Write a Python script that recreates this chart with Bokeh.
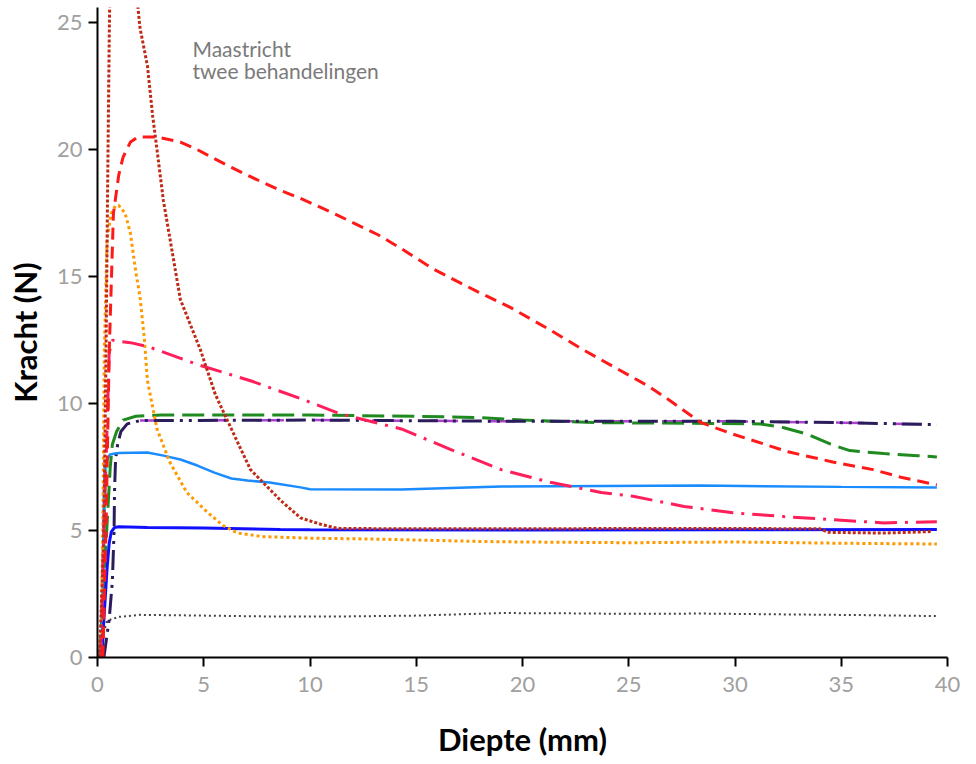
from bokeh.plotting import figure
from bokeh.models import Range1d, FixedTicker, Label
from bokeh.embed import file_html
from bokeh.resources import INLINE

# ---- data (depth in mm, force in N) ----
darkred_x = [0.1, 0.3, 0.4, 0.47, 0.56, 0.62, 1.0, 1.5, 2.0, 2.35, 2.6, 2.8, 3.1, 3.9, 4.85, 5.55, 6.3, 7.2, 8.6, 9.55, 10.5, 11.1, 11.4, 15, 20, 25, 30, 34.0, 34.4, 37.0, 39.3]
darkred_y = [0.0, 5.0, 12.0, 18.0, 25.0, 28.0, 32.0, 29.0, 24.8, 23.3, 21.3, 20.0, 18.0, 14.1, 12.1, 10.35, 9.0, 7.4, 6.2, 5.5, 5.25, 5.12, 5.08, 5.07, 5.07, 5.08, 5.08, 5.07, 4.93, 4.9, 4.96]

red_x = [0.25, 0.4, 0.55, 0.75, 1.0, 1.2, 1.55, 1.9, 2.8, 3.9, 4.7, 6.3, 7.8, 8.6, 9.5, 11.1, 13.2, 14.3, 15.8, 17.9, 19.4, 21.3, 22.9, 25.9, 26.8, 28.4, 29.9, 32.5, 34.6, 36.5, 37.8, 39.5]
red_y = [0.0, 5.0, 12.0, 17.5, 19.0, 19.7, 20.3, 20.5, 20.5, 20.3, 20.0, 19.3, 18.7, 18.4, 18.1, 17.5, 16.65, 16.1, 15.3, 14.4, 13.8, 12.9, 12.1, 10.7, 10.2, 9.25, 8.8, 8.1, 7.7, 7.4, 7.1, 6.8]

orange_x = [0.15, 0.25, 0.32, 0.45, 0.65, 0.85, 1.0, 1.3, 1.55, 1.8, 2.0, 2.2, 2.35, 2.8, 3.4, 4.2, 5.2, 5.9, 6.6, 7.8, 10, 13.3, 18, 20, 25, 30, 35, 39.5]
orange_y = [0.0, 5.0, 12.0, 16.5, 17.5, 17.8, 17.8, 17.5, 16.7, 15.2, 14.2, 12.6, 10.9, 9.0, 7.7, 6.5, 5.7, 5.2, 4.9, 4.76, 4.7, 4.66, 4.57, 4.55, 4.52, 4.55, 4.5, 4.47]

pink_x = [0.15, 0.3, 0.45, 0.55, 0.7, 1.05, 1.55, 2.35, 4.85, 7.2, 9.55, 11.4, 14.3, 16.6, 19.0, 21.3, 23.7, 25.2, 27.6, 29.9, 32.3, 34.6, 37.0, 39.5]
pink_y = [0.0, 5.0, 9.0, 12.0, 12.5, 12.45, 12.4, 12.25, 11.5, 10.9, 10.2, 9.6, 9.0, 8.2, 7.4, 6.9, 6.5, 6.35, 5.95, 5.7, 5.55, 5.43, 5.3, 5.35]

green_x = [0.1, 0.3, 0.5, 0.6, 0.7, 0.9, 1.2, 1.8, 3, 10, 15, 18, 20, 23.7, 31.2, 32.3, 33.4, 34.5, 35.4, 37.0, 38.6, 39.5]
green_y = [0.0, 3.0, 6.0, 7.5, 8.4, 8.9, 9.35, 9.5, 9.55, 9.55, 9.5, 9.45, 9.35, 9.25, 9.2, 9.05, 8.8, 8.4, 8.15, 8.03, 7.95, 7.9]

navy_x = [0.3, 0.55, 0.7, 0.78, 0.8, 0.85, 0.95, 1.1, 1.4, 2.0, 10, 20, 30, 35, 39.5]
navy_y = [0.0, 1.5, 3.0, 5.0, 6.5, 7.8, 8.4, 8.9, 9.2, 9.33, 9.35, 9.3, 9.3, 9.25, 9.17]

violet_x = [2.0, 10, 20, 30, 35, 39.5]
violet_y = [9.33, 9.35, 9.3, 9.3, 9.25, 9.17]

skyblue_x = [0.2, 0.3, 0.35, 0.6, 1.0, 2.35, 3.1, 3.9, 4.7, 5.5, 6.3, 7.06, 8.1, 9.55, 10, 14.3, 19.0, 28.4, 35, 39.5]
skyblue_y = [0.0, 6.5, 7.7, 8.0, 8.05, 8.07, 7.95, 7.8, 7.56, 7.28, 7.05, 6.97, 6.89, 6.7, 6.63, 6.62, 6.73, 6.77, 6.72, 6.7]

cyan_x = [0.25, 0.35, 0.42, 0.6, 0.9]
cyan_y = [0.0, 6.5, 7.7, 8.0, 8.05]

blue_x = [0.2, 0.3, 0.45, 0.55, 0.65, 0.8, 1.0, 2.35, 5.0, 8.6, 10, 20, 30, 39.5]
blue_y = [0.0, 1.5, 3.5, 4.5, 4.95, 5.12, 5.15, 5.12, 5.1, 5.04, 5.03, 5.02, 5.03, 5.04]

gray_x = [0.15, 0.3, 0.45, 1.0, 2.0, 5.0, 8.6, 12, 15, 19, 22, 25, 28.4, 32, 36, 39.5]
gray_y = [0.0, 1.0, 1.45, 1.6, 1.68, 1.65, 1.61, 1.62, 1.65, 1.75, 1.74, 1.72, 1.73, 1.7, 1.67, 1.63]

x_ticks = [0, 5, 10, 15, 20, 25, 30, 35, 40]
y_ticks = [0, 5, 10, 15, 20, 25]

p = figure(width=968, height=760, output_backend="svg", toolbar_location=None,
           x_range=Range1d(0, 40), y_range=Range1d(0, 25.6),
           min_border_left=97, min_border_right=21, min_border_top=7, min_border_bottom=102)
p.outline_line_color = None
p.grid.visible = False
p.background_fill_color = "white"
p.border_fill_color = "white"

# series
p.line(gray_x, gray_y, line_color="#444444", line_width=2, line_dash="2 3")
p.line(cyan_x, cyan_y, line_color="#22dddd", line_width=2.5)
p.line(violet_x, violet_y, line_color="#b040d0", line_width=2.5, line_dash="28 30")
p.line(green_x, green_y, line_color="#1f8a1f", line_width=3, line_dash="22 8")
p.line(navy_x, navy_y, line_color="#2b1d5c", line_width=3, line_dash="20 6 3 6 3 6")
p.line(skyblue_x, skyblue_y, line_color="#1a8cff", line_width=2.5)
p.line(blue_x, blue_y, line_color="#1010ff", line_width=3)
p.line(orange_x, orange_y, line_color="#ff9900", line_width=3, line_dash="3 3")
p.line(pink_x, pink_y, line_color="#ff1f5a", line_width=3, line_dash="22 8 3 8")
p.line(red_x, red_y, line_color="#ff1a1a", line_width=3, line_dash="12 7")
p.line(darkred_x, darkred_y, line_color="#bf2b17", line_width=3, line_dash="3 2")

# axes
for ax in (p.xaxis[0], p.yaxis[0]):
    ax.axis_line_color = "black"
    ax.axis_line_width = 2
    ax.major_tick_line_color = "black"
    ax.major_tick_line_width = 2
    ax.major_tick_out = 9
    ax.major_tick_in = 0
    ax.minor_tick_line_color = None
    ax.major_label_text_font = "Lato"
    ax.major_label_text_font_size = "22px"
    ax.major_label_text_color = "#a0a0a0"
    ax.axis_label_text_font = "Lato"
    ax.axis_label_text_font_style = "bold"
    ax.axis_label_text_font_size = "31px"
    ax.axis_label_text_color = "black"

p.xaxis[0].ticker = FixedTicker(ticks=x_ticks)
p.yaxis[0].ticker = FixedTicker(ticks=y_ticks)
p.xaxis[0].axis_label = "Diepte (mm)"
p.yaxis[0].axis_label = "Kracht (N)"
p.xaxis[0].major_label_standoff = 10
p.yaxis[0].major_label_standoff = 6
p.xaxis[0].axis_label_standoff = 25
p.yaxis[0].axis_label_standoff = 10

p.add_layout(Label(x=4.47, y=24.0, text="Maastricht", text_font="Lato",
                   text_font_size="21px", text_color="#7a7a7a", text_baseline="alphabetic"))
p.add_layout(Label(x=4.47, y=23.1, text="twee behandelingen", text_font="Lato",
                   text_font_size="21px", text_color="#7a7a7a", text_baseline="alphabetic"))

open("out.html", "w").write(file_html(p, INLINE))
